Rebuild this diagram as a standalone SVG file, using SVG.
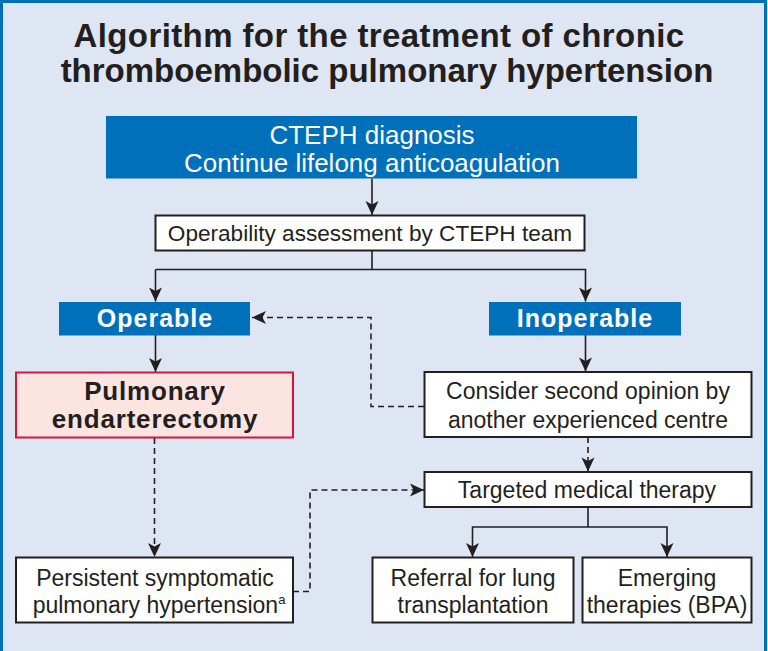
<svg xmlns="http://www.w3.org/2000/svg" width="768" height="651" viewBox="0 0 768 651">
<style>
  .t { font-family: "Liberation Sans", Arial, sans-serif; fill: #231f20; }
  .title { font-size: 33px; font-weight: bold; text-anchor: middle; }
  .reg { font-size: 23px; text-anchor: middle; }
  .wht { fill: #ffffff; }
  .bld { font-weight: bold; }
  .box { fill: #ffffff; stroke: #231f20; stroke-width: 2; }
  .blue { fill: #0070ba; stroke: none; }
  .pink { fill: #fce5e1; stroke: #d2163c; stroke-width: 2; }
  .ln { fill: none; stroke: #231f20; stroke-width: 1.6; }
  .dash { stroke-dasharray: 6 4; }
</style>
<defs>
  <marker id="arr" markerUnits="userSpaceOnUse" markerWidth="16" markerHeight="16" viewBox="0 0 16 16" refX="15" refY="8" orient="auto">
    <path d="M1,1.5 L15,8 L1,14.5 L4.5,8 Z" fill="#231f20"/>
  </marker>
</defs>
<rect x="0" y="0" width="768" height="651" fill="#dfe6f3"/>
<path d="M1.5,651 V1.5 H765.5 V651" fill="none" stroke="#0070ba" stroke-width="3"/>

<g id="title">
  <text class="t title" x="379" y="47" style="letter-spacing:0.4px">Algorithm for the treatment of chronic</text>
  <text class="t title" x="387" y="82">thromboembolic pulmonary hypertension</text>
</g>

<g id="connectors">
  <path class="ln" d="M372,178.5 V215" marker-end="url(#arr)"/>
  <path class="ln" d="M372,250 V269.5"/>
  <path class="ln" d="M155.5,269.5 V301.5" marker-end="url(#arr)"/>
  <path class="ln" d="M155.5,269.5 H585.5 V301.5" marker-end="url(#arr)"/>
  <path class="ln" d="M155.5,335 V372" marker-end="url(#arr)"/>
  <path class="ln" d="M585.5,335 V371.5" marker-end="url(#arr)"/>
  <path class="ln" d="M588,507 V527"/>
  <path class="ln" d="M588,527 H472.5 V557" marker-end="url(#arr)"/>
  <path class="ln" d="M588,527 H667 V557" marker-end="url(#arr)"/>
  <path class="ln dash" d="M424,406.5 H371 V317.5 H252" marker-end="url(#arr)"/>
  <path class="ln dash" d="M154.5,438 V557" marker-end="url(#arr)"/>
  <path class="ln dash" d="M293,591.5 H310 V490 H424" marker-end="url(#arr)"/>
  <path class="ln dash" d="M588,437 V471.5" marker-end="url(#arr)"/>
</g>

<g id="n-diagnosis">
  <rect class="blue" x="106" y="116" width="531" height="62.5"/>
  <text class="t reg wht" x="372" y="144" style="font-size:26px">CTEPH diagnosis</text>
  <text class="t reg wht" x="372" y="172" style="font-size:26px">Continue lifelong anticoagulation</text>
</g>

<g id="n-operability">
  <rect class="box" x="155.5" y="215.5" width="429" height="35"/>
  <text class="t reg" x="370" y="241" style="font-size:22.6px">Operability assessment by CTEPH team</text>
</g>

<g id="n-operable">
  <rect class="blue" x="59" y="302" width="191" height="33.5"/>
  <text class="t wht bld" x="155" y="327" text-anchor="middle" style="font-size:25px;letter-spacing:1px">Operable</text>
</g>

<g id="n-inoperable">
  <rect class="blue" x="489" y="302" width="192" height="33.5"/>
  <text class="t wht bld" x="585" y="327" text-anchor="middle" style="font-size:25px;letter-spacing:1px">Inoperable</text>
</g>

<g id="n-pea">
  <rect class="pink" x="16" y="372.5" width="277" height="65"/>
  <text class="t bld" x="155" y="400" text-anchor="middle" style="font-size:26px;letter-spacing:0.8px">Pulmonary</text>
  <text class="t bld" x="155" y="427.5" text-anchor="middle" style="font-size:26px;letter-spacing:0.8px">endarterectomy</text>
</g>

<g id="n-second-opinion">
  <rect class="box" x="424.5" y="372" width="327" height="65"/>
  <text class="t reg" x="588" y="398.5">Consider second opinion by</text>
  <text class="t reg" x="588" y="427.5">another experienced centre</text>
</g>

<g id="n-targeted">
  <rect class="box" x="424.5" y="472" width="327" height="35"/>
  <text class="t reg" x="587" y="497.5">Targeted medical therapy</text>
</g>

<g id="n-persistent">
  <rect class="box" x="16" y="557.5" width="277" height="65"/>
  <text class="t reg" x="155" y="585.5">Persistent symptomatic</text>
  <text class="t reg" x="159" y="613">pulmonary hypertension<tspan style="font-size:13px" dy="-9">a</tspan></text>
</g>

<g id="n-referral">
  <rect class="box" x="372.5" y="557.5" width="201" height="65"/>
  <text class="t reg" x="473" y="585.5">Referral for lung</text>
  <text class="t reg" x="473" y="613">transplantation</text>
</g>

<g id="n-emerging">
  <rect class="box" x="582.5" y="557.5" width="169" height="65"/>
  <text class="t reg" x="667" y="585.5">Emerging</text>
  <text class="t reg" x="667" y="613">therapies (BPA)</text>
</g>
</svg>
